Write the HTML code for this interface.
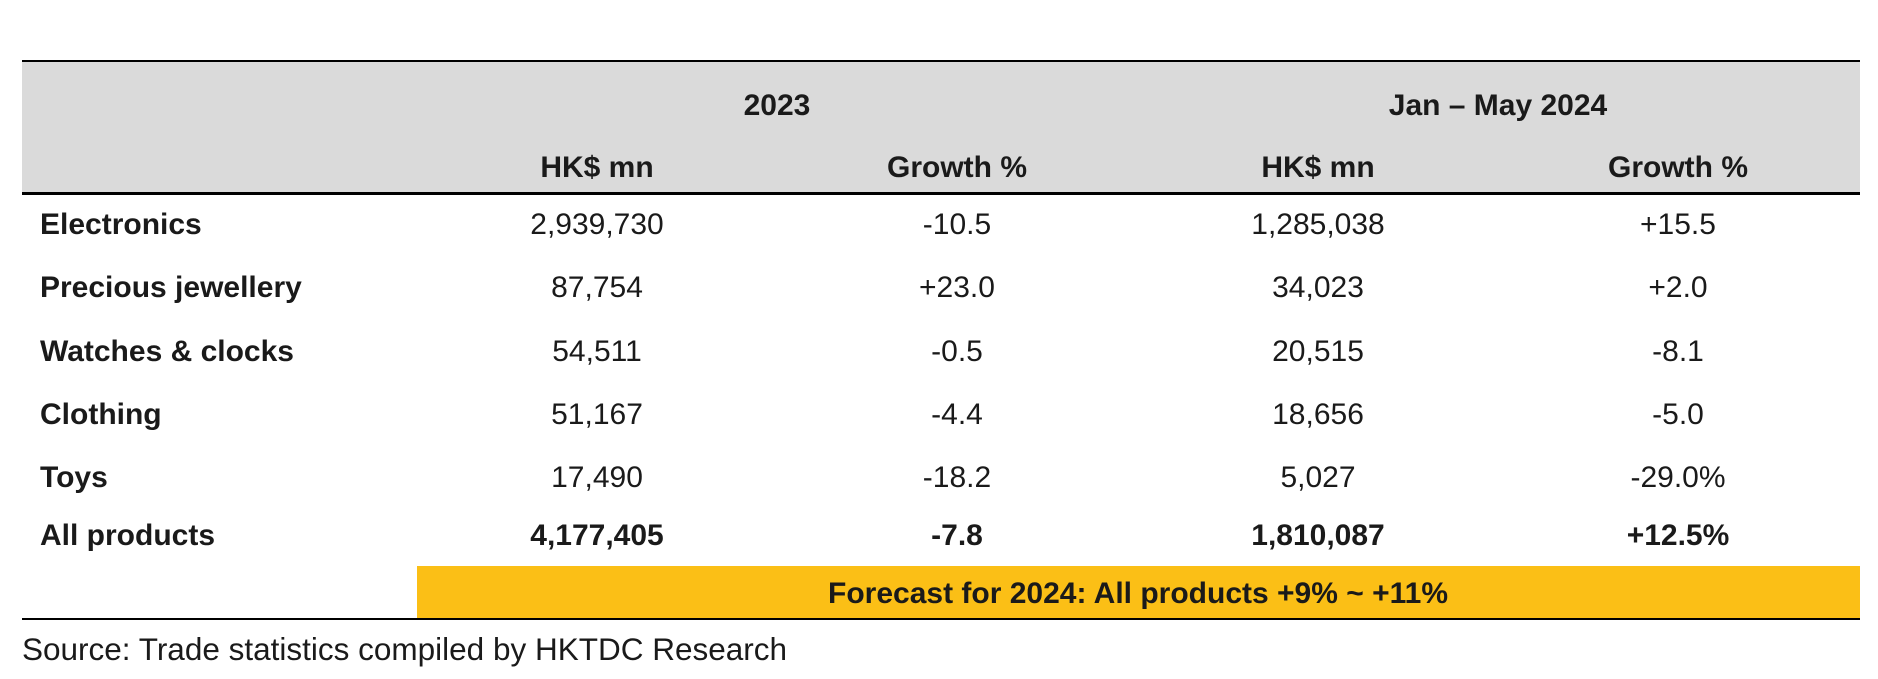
<!DOCTYPE html>
<html><head><meta charset="utf-8"><style>
body{margin:0;width:1878px;height:679px;background:#fff;position:relative;overflow:hidden;font-family:"Liberation Sans",Arial,sans-serif;color:#1a1a1a}
div{position:absolute}
.t{font-size:30px;line-height:34px;white-space:nowrap;transform:translateY(-50%)}
.c{transform:translate(-50%,-50%);text-align:center}
.b{font-weight:bold}
</style></head><body>
<div style="left:0;top:0;width:1878px;height:679px">
<div style="left:22px;top:60px;width:1838px;height:2px;background:#000"></div>
<div style="left:22px;top:62px;width:1838px;height:130px;background:#dadada"></div>
<div style="left:22px;top:192px;width:1838px;height:3px;background:#000"></div>
<div style="left:417px;top:566px;width:1443px;height:52px;background:#fbbf16"></div>
<div style="left:22px;top:618px;width:1838px;height:2px;background:#000"></div>
<div id="cells"></div>
<div class="t c b" style="left:1138px;top:594px">Forecast for 2024: All products +9% ~ +11%</div>
<div class="t" style="left:22px;top:649px;font-size:31.5px">Source: Trade statistics compiled by HKTDC Research</div>
</div>
<script>
const colX=[597,957,1318,1678];
const groups=["2023","Jan – May 2024"];
const subHeads=["HK$ mn","Growth %","HK$ mn","Growth %"];
const rowNames=["Electronics","Precious jewellery","Watches & clocks","Clothing","Toys","All products"];
const val2023=["2,939,730","87,754","54,511","51,167","17,490","4,177,405"];
const gr2023=["-10.5","+23.0","-0.5","-4.4","-18.2","-7.8"];
const val2024=["1,285,038","34,023","20,515","18,656","5,027","1,810,087"];
const gr2024=["+15.5","+2.0","-8.1","-5.0","-29.0%","+12.5%"];
const rowY=[225,288,352,415,478,536];
const host=document.getElementById('cells');
function add(txt,x,y,cls,name){const d=document.createElement('div');d.className=cls;d.textContent=txt;d.style.left=x+'px';d.style.top=y+'px';


host.appendChild(d);}
add(groups[0],(colX[0]+colX[1])/2,106,'t c b','group-header');
add(groups[1],(colX[2]+colX[3])/2,106,'t c b','group-header');
subHeads.forEach((h,i)=>add(h,colX[i],168,'t c b','column-header'));
rowNames.forEach((r,i)=>{
 const bold=i===rowNames.length-1?' b':'';
 add(r,40,rowY[i],'t b','row-label');
 [val2023,gr2023,val2024,gr2024].forEach((arr,j)=>add(arr[i],colX[j],rowY[i],'t c'+bold,'cell-value'));
});
</script>
</body></html>
